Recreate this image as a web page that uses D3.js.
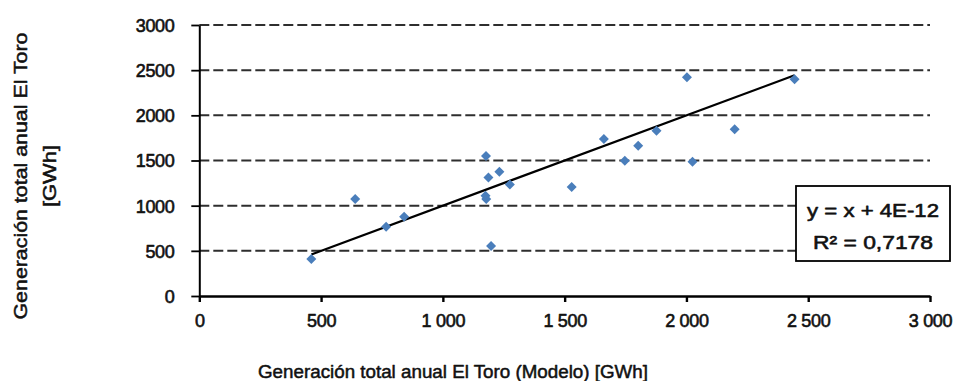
<!DOCTYPE html>
<html>
<head>
<meta charset="utf-8">
<script src="https://cdn.jsdelivr.net/npm/d3@7"></script>
<style>
  body { margin: 0; background: #ffffff; }
  svg { display: block; }
</style>
</head>
<body>
<div id="chart"></div>
<script>
const modelGWh = [460, 640, 767, 841, 1175, 1178, 1177, 1187, 1232, 1275, 1198, 1529, 1661, 1747, 1802, 1877, 2002, 2025, 2198, 2444];
const realGWh  = [409, 1073, 767, 877, 1110, 1075, 1549, 1313, 1375, 1235, 553, 1206, 1738, 1498, 1664, 1830, 2421, 1487, 1845, 2399];

const xTicks = [0, 500, 1000, 1500, 2000, 2500, 3000];
const yTicks = [0, 500, 1000, 1500, 2000, 2500, 3000];

// trendline as printed on the chart
const trendSlope = 1;
const trendIntercept = 4e-12;
const trendLabel = ['y = x + 4E-12', 'R\u00b2 = 0,7178'];

const xTitle = 'Generación total anual El Toro (Modelo) [GWh]';
const yTitle = ['Generación total anual El Toro', '[GWh]'];

const width = 958;
const height = 381;
const margin = { top: 25, right: 28, bottom: 85, left: 199.3 };

const svg = d3.select('#chart')
  .append('svg')
  .attr('width', width)
  .attr('height', height);

const x = d3.scaleLinear().domain([0, 3000]).range([margin.left, width - margin.right]);
const y = d3.scaleLinear().domain([0, 3000]).range([height - margin.bottom, margin.top]);

const font = '"Liberation Sans", Arial, sans-serif';

// make the thin text look a bit heavier like the scanned original
function heavy(sel, w) {
  sel.style('fill', '#111')
    .style('stroke', '#111')
    .style('stroke-width', w)
    .style('stroke-linejoin', 'round');
}

// dashed horizontal gridlines
svg.append('g')
  .selectAll('line')
  .data(yTicks.filter(d => d > 0))
  .enter()
  .append('line')
  .attr('x1', x(0))
  .attr('x2', x(3000))
  .attr('y1', d => y(d))
  .attr('y2', d => y(d))
  .style('stroke', '#2e2e2e')
  .style('stroke-width', 2)
  .style('stroke-dasharray', '10,4');

// x axis
const xAxis = svg.append('g')
  .attr('transform', `translate(0,${y(0)})`)
  .call(d3.axisBottom(x)
    .tickValues(xTicks)
    .tickSize(6)
    .tickSizeOuter(0)
    .tickFormat(d => d >= 1000 ? d3.format(',')(d).replace(',', ' ') : d));
xAxis.select('.domain').style('stroke', '#000').style('stroke-width', 2.4);
xAxis.selectAll('.tick line').style('stroke', '#000').style('stroke-width', 2.4);
xAxis.selectAll('.tick text')
  .attr('y', 0)
  .attr('dy', 0)
  .attr('transform', 'translate(0,31)')
  .style('font-family', font)
  .style('font-size', '18px')
  .style('letter-spacing', '-0.3px')
  .call(heavy, 0.6);

// y axis
const yAxis = svg.append('g')
  .attr('transform', `translate(${x(0)},0)`)
  .call(d3.axisLeft(y)
    .tickValues(yTicks)
    .tickSize(8)
    .tickSizeOuter(0)
    .tickFormat(d3.format('d')));
yAxis.select('.domain').style('stroke', '#000').style('stroke-width', 2);
yAxis.selectAll('.tick line').style('stroke', '#000').style('stroke-width', 1.8);
yAxis.selectAll('.tick text')
  .attr('x', -25)
  .attr('dy', '0.36em')
  .style('font-family', font)
  .style('font-size', '18px')
  .style('letter-spacing', '-0.4px')
  .call(heavy, 0.6);

// trendline y = x + b over the data range
const xMin = d3.min(modelGWh);
const xMax = d3.max(modelGWh);
svg.append('line')
  .attr('x1', x(xMin))
  .attr('y1', y(trendSlope * xMin + trendIntercept))
  .attr('x2', x(xMax))
  .attr('y2', y(trendSlope * xMax + trendIntercept))
  .style('stroke', '#000')
  .style('stroke-width', 2.2);

// diamond markers (square rotated 45 degrees)
const diamond = {
  draw(context, size) {
    const r = Math.sqrt(size / 2);
    context.moveTo(0, -r);
    context.lineTo(r, 0);
    context.lineTo(0, r);
    context.lineTo(-r, 0);
    context.closePath();
  }
};
const points = modelGWh.map((d, i) => ({ model: d, real: realGWh[i] }));
svg.append('g')
  .selectAll('path')
  .data(points)
  .enter()
  .append('path')
  .attr('d', d3.symbol().type(diamond).size(50))
  .attr('transform', d => `translate(${x(d.model)},${y(d.real)})`)
  .style('fill', '#4a7ebb');

// equation box
const box = svg.append('g').attr('transform', 'translate(796,186)');
box.append('rect')
  .attr('width', 154)
  .attr('height', 75)
  .style('fill', '#fff')
  .style('stroke', '#000')
  .style('stroke-width', 1.8);
box.selectAll('text')
  .data(trendLabel)
  .enter()
  .append('text')
  .attr('x', 77)
  .attr('y', (d, i) => 31 + i * 32)
  .attr('text-anchor', 'middle')
  .attr('textLength', (d, i) => i === 0 ? 132 : 120)
  .attr('lengthAdjust', 'spacingAndGlyphs')
  .style('font-family', font)
  .style('font-size', '19px')
  .call(heavy, 0.6)
  .text(d => d);

// axis titles
svg.append('text')
  .attr('x', 453)
  .attr('y', 378)
  .attr('text-anchor', 'middle')
  .attr('textLength', 390)
  .attr('lengthAdjust', 'spacingAndGlyphs')
  .style('font-family', font)
  .style('font-size', '18px')
  .call(heavy, 0.5)
  .text(xTitle);

svg.append('g')
  .attr('transform', 'translate(0,176) rotate(-90)')
  .selectAll('text')
  .data(yTitle)
  .enter()
  .append('text')
  .attr('x', 0)
  .attr('y', (d, i) => 27 + i * 29)
  .attr('text-anchor', 'middle')
  .attr('textLength', (d, i) => i === 0 ? 287 : 62)
  .attr('lengthAdjust', 'spacingAndGlyphs')
  .style('font-family', font)
  .style('font-size', '18px')
  .call(heavy, 0.5)
  .text(d => d);
</script>
</body>
</html>
